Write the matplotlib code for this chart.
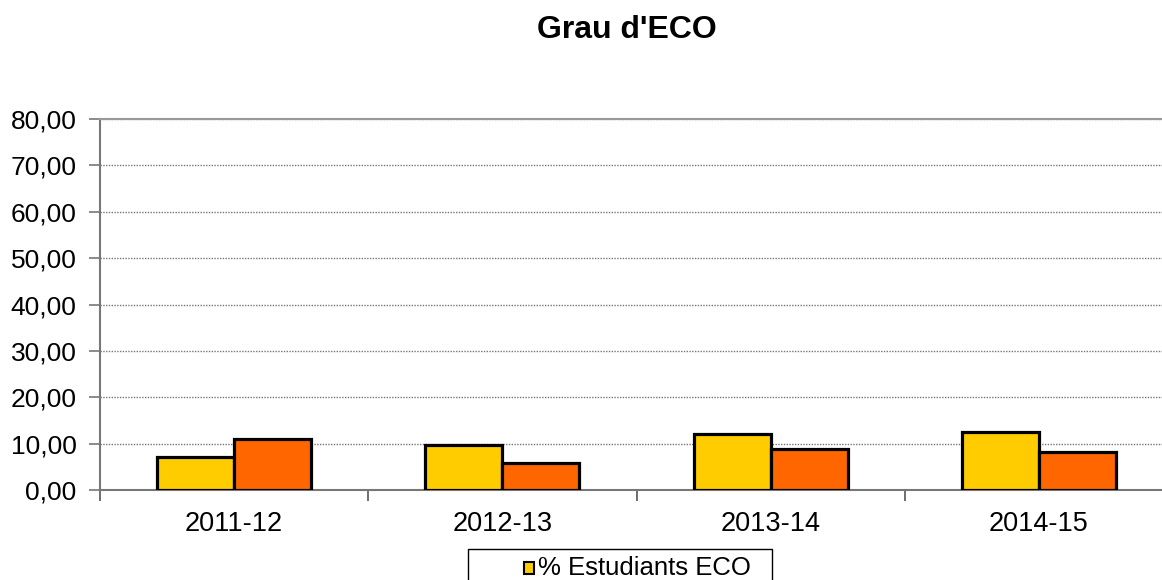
import numpy as np
import matplotlib.pyplot as plt
from matplotlib.patches import Rectangle

plt.rcParams['font.family'] = ['Liberation Sans', 'DejaVu Sans']

cursos = ["2011-12", "2012-13", "2013-14", "2014-15"]
eco = [7.2, 9.6, 12.1, 12.6]
altre = [11.1, 5.9, 8.8, 8.1]
yticks = [0, 10, 20, 30, 40, 50, 60, 70, 80]

W, H = 1162, 580
fig = plt.figure(figsize=(W / 100, H / 100), dpi=100)
# plot area: x 100..1173 px, y 119..490 px (right edge cut off like the original)
ax = fig.add_axes([100 / W, (H - 490) / H, 1073 / W, 371 / H])

x = np.arange(len(cursos))
bw = 0.287
ax.bar(x - bw / 2, eco, bw, color="#FFCC00", edgecolor="black", linewidth=2.3, zorder=3)
ax.bar(x + bw / 2, altre, bw, color="#FF6600", edgecolor="black", linewidth=2.3, zorder=3)

ax.set_xlim(-0.5, len(cursos) - 0.5)
ax.set_ylim(0, 80)
ax.set_yticks(yticks)
ax.set_yticklabels(["%d,00" % v for v in yticks], fontsize=19)
ax.set_xticks(x)
ax.set_xticklabels(cursos, fontsize=19.5)
ax.tick_params(axis="x", length=0, pad=15)
ax.set_xticks(np.arange(len(cursos) + 1) - 0.5, minor=True)
ax.tick_params(axis="x", which="minor", length=8, width=1.2, color="#555555", direction="out")
ax.tick_params(axis="y", length=8, width=1.2, color="#777777", direction="out", pad=9)

ax.yaxis.grid(True, linestyle=(0, (1, 1)), color="#777777", linewidth=1, zorder=0)
for s in ["left", "bottom"]:
    ax.spines[s].set_color("#777777")
    ax.spines[s].set_linewidth(1.5)
ax.spines["top"].set_color("#999999")
ax.spines["top"].set_linewidth(1.5)
ax.spines["right"].set_visible(False)

fig.text(627 / W, 1 - 30 / H, "Grau d'ECO", fontsize=23, fontweight="bold",
         ha="center", va="center")

# legend box (bottom part falls outside the image as in the reference)
fig.patches.append(Rectangle((468 / W, -0.05), 304 / W, (H - 549) / H + 0.05,
                             transform=fig.transFigure, facecolor="white",
                             edgecolor="black", linewidth=1))
fig.patches.append(Rectangle((524 / W, (H - 574) / H), 10 / W, 12 / H,
                             transform=fig.transFigure, facecolor="#FFCC00",
                             edgecolor="black", linewidth=1.5))
fig.text(538 / W, (H - 568) / H, "% Estudiants ECO", fontsize=18.5,
         ha="left", va="center")

fig.savefig("out.png", dpi=100)
